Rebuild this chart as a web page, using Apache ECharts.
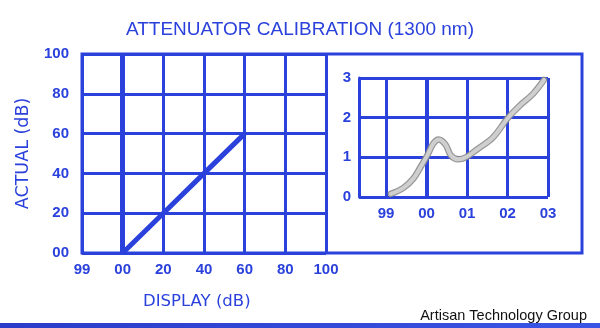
<!DOCTYPE html>
<html>
<head>
<meta charset="utf-8">
<script src="https://cdn.jsdelivr.net/npm/echarts@6/dist/echarts.min.js"></script>
<style>html,body{margin:0;padding:0;background:#fff}#c{width:600px;height:328px}</style>
</head>
<body>
<div id="c"></div>
<script>
// ---- data ----
const mainDisplay = [0, 20, 40, 60];
const mainActual = [0, 20, 40, 60];
const mainXTickValues = [-20, 0, 20, 40, 60, 80, 100];
const mainXTickLabels = ['99', '00', '20', '40', '60', '80', '100'];
const mainYTickValues = [0, 20, 40, 60, 80, 100];
const mainYTickLabels = ['00', '20', '40', '60', '80', '100'];

const insetX = [-0.88, -0.57, -0.32, -0.15, 0.02, 0.17, 0.3, 0.47, 0.6, 0.78, 0.97, 1.25, 1.64, 2.0, 2.3, 2.63, 2.9];
const insetY = [0.08, 0.23, 0.47, 0.75, 1.05, 1.35, 1.45, 1.32, 1.05, 0.95, 1.0, 1.2, 1.5, 1.98, 2.3, 2.6, 2.95];
const insetXTickValues = [-1, 0, 1, 2, 3];
const insetXTickLabels = ['99', '00', '01', '02', '03'];
const insetYTickLabels = ['0', '1', '2', '3'];

const BLUE = '#2b41dc';
const FONT = 'Liberation Sans';
const FONT2 = 'DejaVu Sans';

function lab(values, labels) {
  return v => { const i = values.findIndex(x => Math.abs(x - v) < 1e-6); return i >= 0 ? labels[i] : ''; };
}

const chart = echarts.init(document.getElementById('c'), null, {renderer: 'canvas'});
const split = {show: true, lineStyle: {color: BLUE, width: 3}};
const tickFont = {color: BLUE, fontSize: 15, fontFamily: FONT, fontWeight: 'bold'};

chart.setOption({
  backgroundColor: '#ffffff',
  animation: false,
  title: [
    {text: 'ATTENUATOR CALIBRATION (1300 nm)', left: 'center', top: 15,
     textStyle: {color: BLUE, fontSize: 19, fontWeight: 'normal', fontFamily: FONT}},
    {text: 'DISPLAY (dB)', left: 138, top: 288,
     textStyle: {color: BLUE, fontSize: 16.5, fontWeight: 'normal', fontFamily: FONT2}},
    {text: 'Artisan Technology Group', right: 8, top: 303,
     textStyle: {color: '#111', fontSize: 14.5, fontWeight: 'normal', fontFamily: FONT}}
  ],
  graphic: [
    {type: 'rect', shape: {x: 0, y: 323, width: 600, height: 5}, z: 10,
     style: {fill: new echarts.graphic.LinearGradient(0, 0, 1, 0, [{offset: 0, color: '#2a3cc8'}, {offset: 1, color: '#3a55e6'}])}}
  ],
  grid: [
    {left: 82, right: 274, top: 54, bottom: 75},
    {left: 82, right: 18, top: 54, bottom: 75, show: true, borderColor: BLUE, borderWidth: 3, backgroundColor: 'transparent'},
    {left: 359, right: 52, top: 78, bottom: 131},
    {left: 386, right: 52, top: 78, bottom: 131}
  ],
  xAxis: [
    {gridIndex: 0, type: 'value', min: -20, max: 100, interval: 20,
     axisLine: {show: false}, axisTick: {show: false}, splitLine: split,
     axisLabel: Object.assign({margin: 9, formatter: lab(mainXTickValues, mainXTickLabels)}, tickFont)},
    {gridIndex: 1, type: 'value', show: false, min: 0, max: 1},
    {gridIndex: 2, type: 'value', show: false, min: 0, max: 1},
    {gridIndex: 3, type: 'value', min: -1, max: 3, interval: 1,
     axisLine: {show: false}, axisTick: {show: false}, splitLine: split,
     axisLabel: Object.assign({margin: 9, formatter: lab(insetXTickValues, insetXTickLabels)}, tickFont)}
  ],
  yAxis: [
    {gridIndex: 0, type: 'value', min: 0, max: 100, interval: 20,
     axisLine: {show: false}, axisTick: {show: false}, splitLine: split,
     axisLabel: Object.assign({margin: 13, formatter: lab(mainYTickValues, mainYTickLabels)}, tickFont),
     name: 'ACTUAL (dB)', nameLocation: 'middle', nameRotate: 90, nameGap: 50,
     nameTextStyle: {color: BLUE, fontSize: 17.5, fontFamily: FONT2}},
    {gridIndex: 1, type: 'value', show: false, min: 0, max: 1},
    {gridIndex: 2, type: 'value', min: 0, max: 3, interval: 1,
     axisLine: {show: true, lineStyle: {color: BLUE, width: 3}}, axisTick: {show: false}, splitLine: split,
     axisLabel: Object.assign({margin: 8, formatter: v => insetYTickLabels[Math.round(v)]}, tickFont)},
    {gridIndex: 3, type: 'value', show: false, min: 0, max: 3, splitLine: {show: false}}
  ],
  series: [
    {type: 'line', xAxisIndex: 0, yAxisIndex: 0, data: mainDisplay.map((x, i) => [x, mainActual[i]]),
     showSymbol: false, lineStyle: {color: BLUE, width: 5}, z: 5,
     markLine: {silent: true, symbol: 'none', label: {show: false}, lineStyle: {color: BLUE, width: 5, type: 'solid'},
                data: [{xAxis: 0}]}},
    {type: 'line', xAxisIndex: 3, yAxisIndex: 3, data: insetX.map((x, i) => [x, insetY[i]]),
     showSymbol: false, smooth: 0.35, lineStyle: {color: '#8c8c8c', width: 6.5, cap: 'round', opacity: 0.9}, z: 5,
     markLine: {silent: true, symbol: 'none', label: {show: false}, lineStyle: {color: BLUE, width: 4, type: 'solid'},
                data: [{xAxis: 0}]}},
    {type: 'line', xAxisIndex: 3, yAxisIndex: 3, data: insetX.map((x, i) => [x, insetY[i]]),
     showSymbol: false, smooth: 0.35, lineStyle: {color: '#cfcfcf', width: 4, cap: 'round'}, z: 6}
  ]
});
</script>
</body>
</html>
